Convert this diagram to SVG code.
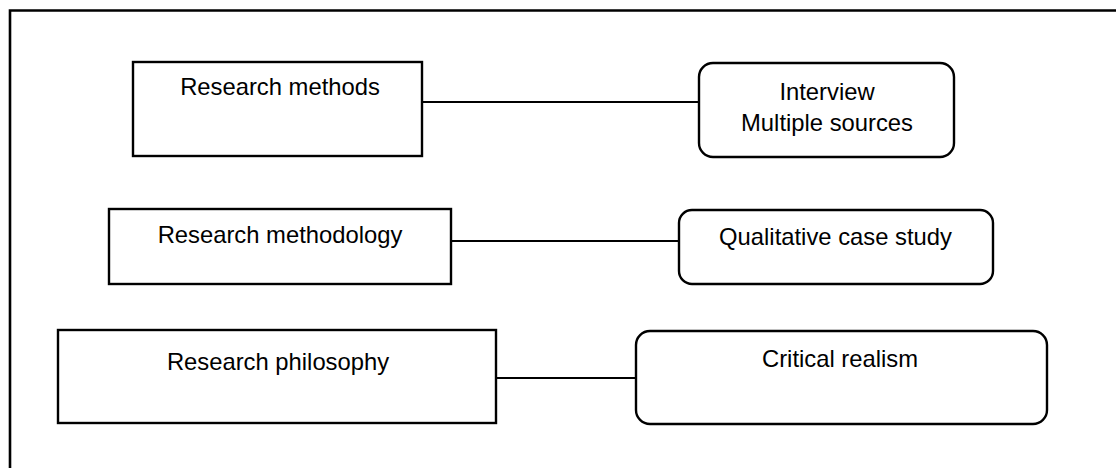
<svg xmlns="http://www.w3.org/2000/svg" width="1116" height="468" viewBox="0 0 1116 468">
<style>
.box{fill:#fff;stroke:#000;stroke-width:2.4}
.frame{fill:none;stroke:#000;stroke-width:2.6}
.conn{stroke:#000;stroke-width:1.8;fill:none}
text{font-family:"Liberation Sans",Arial,sans-serif;font-size:23.8px;fill:#000;text-anchor:middle}
</style>
<rect width="1116" height="468" fill="#fff"/>
<path class="frame" d="M10,468 V10.5 H1116"/>
<g id="connectors">
<line class="conn" x1="422" y1="102" x2="699" y2="102"/>
<line class="conn" x1="451" y1="241" x2="679" y2="241"/>
<line class="conn" x1="496" y1="378" x2="636" y2="378"/>
</g>
<g id="research-methods">
<rect class="box" x="133" y="62" width="289" height="94"/>
<text x="280" y="95">Research methods</text>
</g>
<g id="interview">
<rect class="box" x="699" y="63" width="255" height="94" rx="14" ry="14"/>
<text x="827" y="100">Interview</text>
<text x="827" y="131">Multiple sources</text>
</g>
<g id="research-methodology">
<rect class="box" x="109" y="209" width="342" height="75"/>
<text x="280" y="243">Research methodology</text>
</g>
<g id="qualitative">
<rect class="box" x="679" y="210" width="314" height="74" rx="13" ry="13"/>
<text x="835.5" y="245">Qualitative case study</text>
</g>
<g id="research-philosophy">
<rect class="box" x="58" y="330" width="438" height="93"/>
<text x="278" y="370">Research philosophy</text>
</g>
<g id="critical-realism">
<rect class="box" x="636" y="331" width="411" height="93" rx="14" ry="14"/>
<text x="840" y="367">Critical realism</text>
</g>
</svg>
